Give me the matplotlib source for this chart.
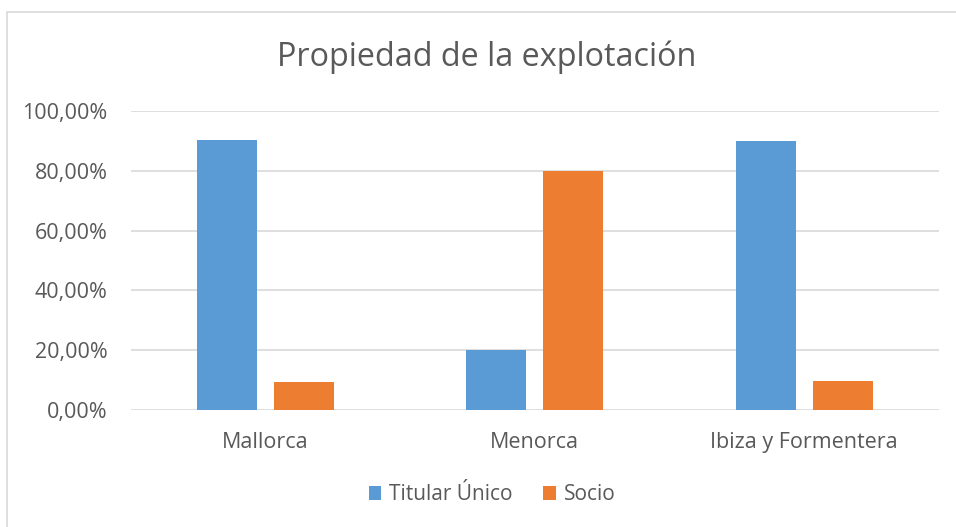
import matplotlib
matplotlib.use("Agg")
import matplotlib.pyplot as plt
from matplotlib.patches import Rectangle
import numpy as np

categories = ["Mallorca", "Menorca", "Ibiza y Formentera"]
series_names = ["Titular Único", "Socio"]
titular = [90.4, 20.0, 90.0]
socio = [9.3, 80.0, 9.8]
y_ticks = [0, 20, 40, 60, 80, 100]
y_tick_labels = ["0,00%", "20,00%", "40,00%", "60,00%", "80,00%", "100,00%"]
title = "Propiedad de la explotación"

colors = ["#5B9BD5", "#ED7D31"]
text_color = "#595959"
plt.rcParams['font.family'] = ['Open Sans', 'DejaVu Sans']

W, H = 956, 527
fig = plt.figure(figsize=(W / 100, H / 100), dpi=100)
fig.patch.set_facecolor("white")

# outer chart frame
fig.patches.append(Rectangle((7 / W, -0.1), 1.2, (H - 12) / H + 0.1,
                             transform=fig.transFigure, fill=False,
                             edgecolor="#d9d9d9", linewidth=1.2))

left, right = 131, 938.7
top, bottom = 111, 410
ax = fig.add_axes([left / W, 1 - bottom / H, (right - left) / W, (bottom - top) / H])

x = np.arange(len(categories))
bw = 0.223
off = 0.143
ax.bar(x - off, titular, bw, color=colors[0], label=series_names[0], zorder=3)
ax.bar(x + off, socio, bw, color=colors[1], label=series_names[1], zorder=3)

ax.set_xlim(-0.5, len(categories) - 0.5)
ax.set_ylim(0, 100)
ax.set_yticks(y_ticks)
ax.set_yticklabels(y_tick_labels)
ax.set_xticks(x)
ax.set_xticklabels(categories)
ax.grid(axis="y", color="#d9d9d9", linewidth=1.2, zorder=0)
for s in ax.spines.values():
    s.set_visible(False)
ax.tick_params(axis="both", length=0, labelsize=15.5, colors=text_color)
ax.tick_params(axis="y", pad=17)
ax.tick_params(axis="x", pad=16)

fig.text(487 / W, 1 - 57 / H, title, ha="center", va="center",
         fontsize=23.3, color=text_color)

leg = fig.legend(loc="center", bbox_to_anchor=(492 / W, 1 - 495 / H), ncol=2,
                 frameon=False, fontsize=15, handlelength=0.62, handleheight=0.62,
                 handletextpad=0.35, columnspacing=1.5)
for t in leg.get_texts():
    t.set_color(text_color)

fig.savefig("out.png", dpi=100, facecolor="white")
